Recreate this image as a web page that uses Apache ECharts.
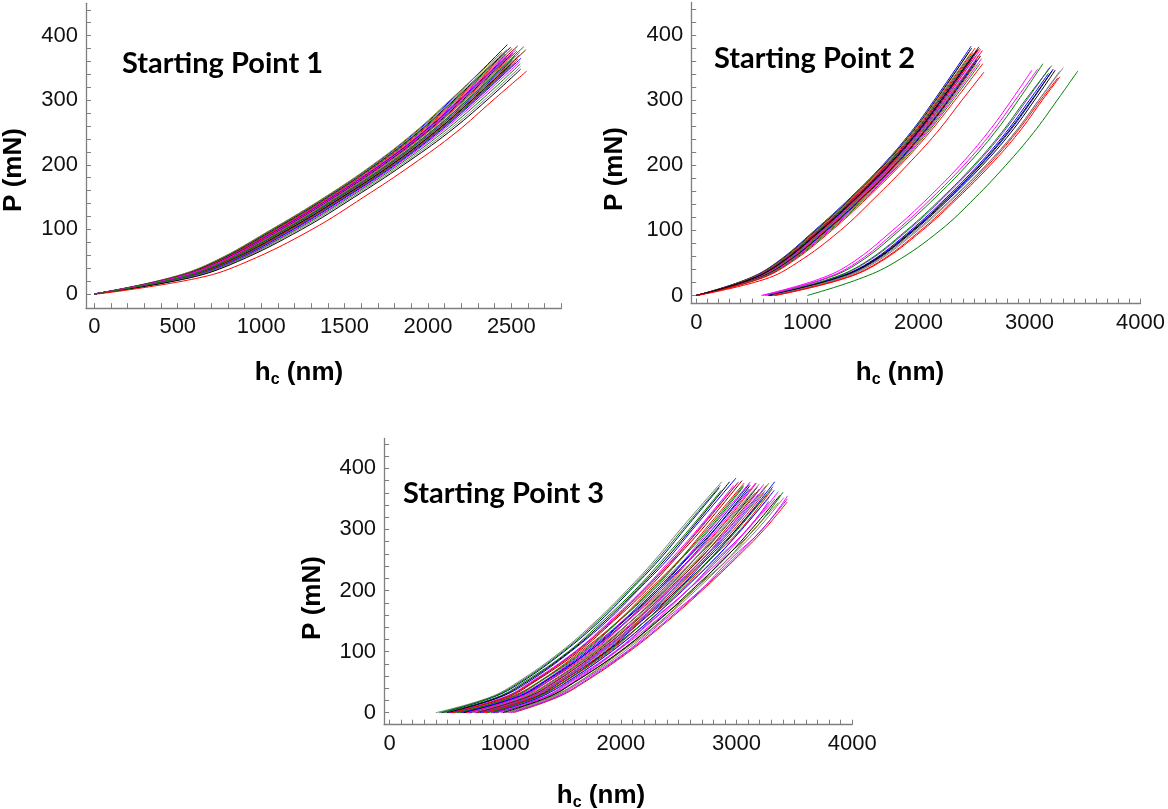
<!DOCTYPE html>
<html><head><meta charset="utf-8">
<script src="https://cdn.jsdelivr.net/npm/echarts@6/dist/echarts.min.js"></script>
<style>html,body{margin:0;padding:0;background:#fff}#c{width:1168px;height:809px}</style>
</head><body><div id="c"></div>
<script>
// ---------- DATA ----------
// load levels (mN) at which each curve's depth h_c (nm) was read
const P_LEVELS = [0, 25, 50, 100, 150, 200, 250, 300];

// Starting Point 1 : h_c at P_LEVELS, then end point [h, P]
const P1_H = [
  [0,458,720,1068,1388,1675,1924,2138],[0,452,715,1062,1382,1669,1918,2132],[0,464,726,1075,1394,1681,1933,2146],
  [0,468,730,1080,1400,1688,1940,2155],[0,473,736,1086,1405,1693,1946,2162],[0,476,740,1092,1412,1701,1954,2170],
  [0,480,746,1099,1418,1709,1962,2178],[0,482,748,1104,1425,1716,1969,2186],[0,489,756,1110,1430,1720,1974,2192],
  [0,491,760,1116,1437,1728,1982,2200],[0,496,764,1121,1440,1732,1989,2208],[0,498,768,1128,1449,1741,1996,2216],
  [0,505,774,1133,1452,1745,2000,2222],[0,506,776,1140,1460,1755,2011,2232],[0,512,784,1146,1466,1759,2015,2238],
  [0,514,786,1150,1472,1767,2024,2247],[0,521,793,1158,1478,1771,2028,2252],[0,523,798,1164,1484,1779,2036,2260],
  [0,528,803,1168,1488,1783,2040,2264],[0,530,806,1176,1496,1791,2048,2272],[0,536,813,1182,1500,1793,2050,2274],
  [0,540,818,1188,1506,1799,2056,2280],[0,544,823,1194,1510,1805,2062,2286],[0,551,831,1204,1521,1813,2073,2300],
  [0,555,838,1213,1531,1825,2089,2318],[0,564,847,1227,1545,1840,2107,2337],[0,572,857,1243,1559,1854,2123,2353],
  [0,487,757,1113,1433,1724,1979,2196],[0,509,780,1143,1462,1757,2013,2235],[20,628,915,1305,1615,1905,2168,2390]
];
const P1_END = [
  [2476,386],[2444,374],[2472,378],[2496,382],[2462,372],[2505,380],[2471,370],[2538,384],[2470,366],[2527,378],
  [2509,372],[2534,376],[2475,360],[2575,383],[2550,374],[2506,362],[2547,370],[2587,378],[2500,356],[2540,364],
  [2493,352],[2523,358],[2558,365],[2552,360],[2553,356],[2555,352],[2556,348],[2507,374],[2521,368],[2592,345]
];

// Starting Point 2, left bundle
const P2L_H = [
  [0,456,718,1066,1386,1677,1928,2142],[0,460,723,1072,1392,1682,1934,2150],[0,466,728,1079,1399,1689,1942,2158],
  [0,472,735,1086,1406,1696,1949,2166],[0,478,742,1094,1414,1705,1958,2175],[0,483,748,1101,1421,1712,1966,2183],
  [0,488,754,1108,1428,1719,1973,2191],[0,492,759,1114,1435,1726,1981,2199],[0,497,764,1121,1441,1733,1988,2207],
  [0,501,769,1127,1448,1740,1995,2215],[0,505,774,1133,1454,1747,2002,2223],[0,509,779,1139,1460,1754,2009,2231],
  [0,513,784,1145,1466,1760,2016,2239],[0,517,789,1151,1472,1766,2023,2247],[0,521,794,1157,1478,1772,2029,2254],
  [0,526,800,1164,1485,1779,2036,2262],[0,531,806,1171,1492,1786,2043,2269],[0,536,812,1178,1499,1793,2050,2276],
  [0,542,819,1186,1506,1800,2058,2284],[0,548,826,1195,1515,1809,2068,2295],[0,555,835,1206,1526,1821,2081,2310],
  [0,564,846,1220,1540,1836,2098,2330],[0,494,761,1117,1438,1729,1984,2203],[10,618,905,1298,1608,1898,2164,2392]
];
const P2L_END = [
  [2475,383],[2455,374],[2480,380],[2470,372],[2510,380],[2490,372],[2545,382],[2500,370],[2525,376],[2480,362],
  [2552,380],[2520,368],[2560,378],[2500,358],[2545,370],[2575,376],[2525,362],[2560,368],[2520,356],[2570,364],
  [2555,356],[2580,356],[2535,378],[2590,343]
];
// Starting Point 2, right bundle
const P2R_H = [
  [620,1153,1460,1830,2150,2437,2686,2900],[640,1201,1523,1905,2225,2512,2761,2975],[645,1195,1512,1892,2212,2499,2748,2962],
  [650,1223,1550,1930,2250,2537,2786,3000],[660,1238,1568,1952,2273,2560,2811,3025],[662,1233,1560,1945,2265,2552,2801,3018],
  [672,1255,1577,1962,2286,2577,2831,3046],[680,1263,1590,1980,2310,2607,2866,3085],[690,1278,1605,1995,2320,2612,2868,3082],
  [700,1303,1630,2020,2340,2627,2881,3100],[712,1315,1642,2036,2356,2647,2902,3116],[600,1138,1438,1805,2122,2409,2658,2872],
  [586,1103,1400,1768,2088,2375,2624,2838],[1000,1460,1778,2196,2510,2787,3036,3250]
];
const P2R_END = [
  [3121,356],[3180,350],[3200,353],[3171,341],[3215,348],[3204,345],[3232,346],[3304,350],[3270,344],[3255,334],
  [3275,336],[3075,348],[3021,346],[3436,345]
];

// Starting Point 3
const P3_H = [
  [400,864,1108,1481,1784,2050,2294,2514],[450,890,1140,1508,1818,2080,2330,2550],[470,925,1162,1545,1842,2118,2360,2590],
  [520,950,1198,1566,1880,2145,2400,2620],[510,985,1220,1603,1905,2184,2428,2662],[560,990,1240,1608,1925,2190,2450,2672],
  [540,1015,1249,1633,1936,2218,2462,2700],[610,1036,1286,1652,1975,2240,2505,2728],[590,1062,1294,1682,1984,2270,2515,2760],
  [650,1070,1320,1690,2012,2280,2546,2770],[640,1102,1336,1722,2028,2316,2562,2810],[700,1105,1355,1724,2050,2318,2588,2815],
  [660,1132,1364,1752,2058,2350,2598,2848],[740,1140,1390,1760,2088,2356,2628,2855],[690,1162,1394,1782,2090,2382,2632,2885],
  [780,1164,1412,1784,2112,2384,2656,2885],[730,1190,1420,1812,2120,2415,2668,2922],[800,1198,1448,1820,2148,2420,2698,2928],
  [760,1220,1450,1842,2150,2450,2700,2960],[840,1222,1470,1842,2174,2446,2724,2955],[780,1250,1478,1870,2180,2484,2736,2998],
  [880,1256,1505,1876,2210,2484,2765,2998],[830,1278,1508,1900,2212,2518,2770,3034],[920,1292,1540,1912,2246,2520,2808,3040],
  [880,1326,1552,1948,2260,2572,2824,3094],[960,1340,1586,1960,2298,2574,2862,3095],[920,1372,1598,1996,2310,2626,2878,3154],
  [1000,1386,1632,2004,2346,2624,2916,3150],[1030,1422,1650,2050,2365,2684,2940,3222],[1070,1448,1685,2072,2403,2702,2980,3240],
  [430,878,1125,1496,1800,2066,2312,2534],[495,938,1180,1556,1862,2132,2380,2605],[535,1000,1232,1618,1918,2200,2445,2680],
  [580,1050,1290,1668,1980,2256,2508,2744],[620,1088,1328,1706,2020,2300,2555,2790],[680,1118,1358,1738,2054,2334,2592,2832],
  [710,1150,1392,1770,2090,2370,2634,2870],[750,1180,1430,1800,2130,2400,2676,2906],[790,1210,1458,1830,2160,2436,2702,2944],
  [810,1238,1474,1860,2170,2466,2720,2978],[850,1266,1498,1888,2210,2500,2760,3010],[900,1296,1530,1920,2240,2534,2800,3046],
  [910,1330,1566,1956,2270,2574,2840,3090],[980,1362,1600,1990,2320,2608,2886,3128],[1010,1402,1636,2028,2350,2646,2920,3180],
  [1050,1436,1672,2060,2390,2690,2964,3220]
];
const P3_END = [
  [2872,378],[2850,368],[2868,364],[2995,384],[2975,372],[3018,378],[3048,380],[3066,376],[3060,370],[3120,378],
  [3117,372],[3110,366],[3172,376],[3140,362],[3181,370],[3160,360],[3236,374],[3193,358],[3280,376],[3250,364],
  [3330,378],[3258,356],[3308,366],[3284,352],[3278,346],[3333,350],[3402,361],[3364,344],[3442,355],[3438,345],
  [2860,372],[2940,378],[3005,375],[3060,372],[3110,374],[3165,376],[3195,374],[3198,366],[3258,372],[3240,360],
  [3315,370],[3326,364],[3362,362],[3376,356],[3409,352],[3440,350]
];

// axis tick labels
const X1_LABELS = [0, 500, 1000, 1500, 2000, 2500];
const X2_LABELS = [0, 1000, 2000, 3000, 4000];
const X3_LABELS = [0, 1000, 2000, 3000, 4000];
const Y_LABELS = [0, 100, 200, 300, 400];
const PANEL_TITLES = ['Starting Point 1', 'Starting Point 2', 'Starting Point 3'];

// ---------- STYLE ----------
const PAL = {r:'#ff0000', g:'#008000', b:'#0000ff', k:'#000000', m:'#ff00ff', y:'#808080',
             o:'#808000', d:'#800000', p:'#8a2be2', n:'#000080'};
const P1_COL = 'boykgrmdbpkrygmbodkrgpbmgykmgr';
const P2L_COL = 'bokyrgdmbkrpmgyrbkomgrkr';
const P2R_COL = 'gpgbbkkyyrrmmg';
const P3_COL = 'yngbmpdrgmkbrykomposbkrypmgomrg' + 'krgbmydprgbmkypr';

function range(a, b, s) { const r = []; for (let v = a; v <= b; v += s) r.push(v); return r; }

const chart = echarts.init(document.getElementById('c'), null, {renderer: 'canvas'});

const GRIDS = [
  {left: 86,    top: 3.3,   width: 475.4, height: 304.9},
  {left: 691.2, top: 2.5,   width: 449.9, height: 301.1},
  {left: 384.1, top: 438.4, width: 468.1, height: 286.3}
];
const XR = [[-50, 2800], [-46, 4000], [-47, 4000]];
const YR = [[-22, 450], [-12.5, 450], [-19.6, 449]];
const XLAB = [X1_LABELS, X2_LABELS, X3_LABELS];
const XTICK = [range(0, 2800, 100), range(0, 4000, 100), range(0, 4000, 100)];
const YTICK = [range(0, 440, 20), range(0, 440, 20), range(0, 440, 20)];

const AX_COLOR = '#7f7f7f';
const labelStyle = {color: '#111', fontFamily: 'Liberation Sans', fontSize: 22, formatter: v => String(v)};

const xAxis = [], yAxis = [];
for (let i = 0; i < 3; i++) {
  xAxis.push({
    gridIndex: i, type: 'value', min: XR[i][0], max: XR[i][1],
    axisLine: {show: true, onZero: false, lineStyle: {color: AX_COLOR, width: 1.3}},
    splitLine: {show: false},
    axisTick: {show: true, inside: true, length: 5, lineStyle: {color: AX_COLOR, width: 1}, customValues: XTICK[i]},
    axisLabel: Object.assign({show: true, margin: 8, customValues: XLAB[i]}, labelStyle)
  });
  yAxis.push({
    gridIndex: i, type: 'value', min: YR[i][0], max: YR[i][1],
    axisLine: {show: true, onZero: false, lineStyle: {color: AX_COLOR, width: 1.3}},
    splitLine: {show: false},
    axisTick: {show: true, inside: true, length: 5, lineStyle: {color: AX_COLOR, width: 1}, customValues: YTICK[i]},
    axisLabel: Object.assign({show: true, margin: 8, customValues: Y_LABELS}, labelStyle)
  });
}

const series = [];
function addCurves(H, END, COL, idx) {
  H.forEach((hs, k) => {
    const data = hs.map((h, j) => [h, P_LEVELS[j]]);
    data.push(END[k]);
    series.push({
      type: 'line', xAxisIndex: idx, yAxisIndex: idx, data: data,
      symbol: 'none', showSymbol: false, smooth: 0.4,
      lineStyle: {width: 1, color: PAL[COL[k % COL.length]]},
      itemStyle: {color: PAL[COL[k % COL.length]]},
      silent: true, animation: false, z: 2
    });
  });
}
addCurves(P1_H, P1_END, P1_COL, 0);
addCurves(P2L_H, P2L_END, P2L_COL, 1);
addCurves(P2R_H, P2R_END, P2R_COL, 1);
addCurves(P3_H, P3_END, P3_COL, 2);

const titleFont = {fontFamily: 'Lato', fontWeight: 700, fontSize: 29, fill: '#000'};
const axTitleFont = {fontFamily: 'Liberation Sans', fontWeight: 'bold', fontSize: 26, fill: '#000'};
const TITLE_POS = [[122, 64], [714, 59], [403, 494]];
const YNAME_POS = [[14, 170], [615, 169], [313, 598]];
const XNAME_POS = [[299, 373], [900, 373], [601, 796]];

const graphic = [];
for (let i = 0; i < 3; i++) {
  graphic.push({type: 'text', x: TITLE_POS[i][0], y: TITLE_POS[i][1], z: 10,
    style: Object.assign({text: PANEL_TITLES[i], textAlign: 'left', textVerticalAlign: 'middle'}, titleFont)});
  graphic.push({type: 'text', x: YNAME_POS[i][0], y: YNAME_POS[i][1], rotation: Math.PI / 2, z: 10,
    style: Object.assign({text: 'P (mN)', textAlign: 'center', textVerticalAlign: 'middle'}, axTitleFont)});
  graphic.push({type: 'text', x: XNAME_POS[i][0], y: XNAME_POS[i][1], z: 10,
    style: {text: '{a|h}{b|c}{a| (nm)}', textAlign: 'center', textVerticalAlign: 'middle',
      rich: {a: {fontFamily: 'Liberation Sans', fontWeight: 'bold', fontSize: 26, fill: '#000'},
             b: {fontFamily: 'Liberation Sans', fontWeight: 'bold', fontSize: 16, fill: '#000', padding: [14, 0, 0, 0]}}}});
}

chart.setOption({
  animation: false,
  backgroundColor: '#fff',
  grid: GRIDS.map(g => Object.assign({containLabel: false}, g)),
  xAxis: xAxis, yAxis: yAxis, series: series, graphic: graphic
});
</script></body></html>
